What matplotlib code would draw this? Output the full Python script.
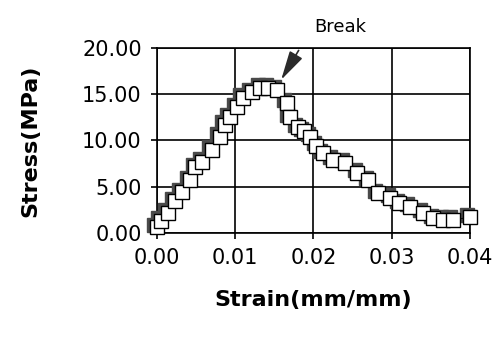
import matplotlib
matplotlib.use("Agg")
import matplotlib.pyplot as plt
from matplotlib.ticker import FormatStrFormatter
from matplotlib.transforms import offset_copy

# strain (mm/mm) and stress (MPa)
strain = [0.0000, 0.0005, 0.0014, 0.0023, 0.0032, 0.0042, 0.0049, 0.0058,
          0.0070, 0.0080, 0.0087, 0.0093, 0.0102, 0.0110, 0.0121, 0.0132,
          0.0142, 0.0153, 0.0166, 0.0170, 0.0180, 0.0188, 0.0196, 0.0204,
          0.0212, 0.0225, 0.0240, 0.0256, 0.0270, 0.0282, 0.0298, 0.0310,
          0.0323, 0.0340, 0.0353, 0.0366, 0.0378, 0.0400]
stress = [0.6, 1.3, 2.2, 3.4, 4.4, 5.7, 7.1, 7.7,
          9.0, 10.4, 11.7, 12.5, 13.6, 14.6, 15.2, 15.7,
          15.7, 15.5, 14.1, 12.5, 11.4, 11.0, 10.4, 9.4,
          8.6, 7.9, 7.6, 6.5, 5.7, 4.3, 3.8, 3.2,
          2.8, 2.2, 1.6, 1.4, 1.4, 1.7]

x_ticks = [0.00, 0.01, 0.02, 0.03, 0.04]
y_ticks = [0.0, 5.0, 10.0, 15.0, 20.0]

fig = plt.figure(figsize=(5.03, 3.38), dpi=100)
ax = fig.add_axes([0.312, 0.311, 0.622, 0.547])

# drop shadow behind each open square
shadow = offset_copy(ax.transData, fig=fig, x=-2.5, y=2.5, units="dots")
ax.plot(strain, stress, linestyle="none", marker="s", markersize=10,
        markerfacecolor="#4a4a4a", markeredgecolor="#4a4a4a",
        transform=shadow, clip_on=False, zorder=3)
ax.plot(strain, stress, color="black", linewidth=0.6, marker="s",
        markersize=10, markerfacecolor="white", markeredgecolor="black",
        markeredgewidth=1.0, clip_on=False, zorder=4)

ax.set_xlim(0, 0.04)
ax.set_ylim(0, 20)
ax.set_xticks(x_ticks)
ax.set_yticks(y_ticks)
ax.xaxis.set_major_formatter(FormatStrFormatter("%.2f"))
ax.yaxis.set_major_formatter(FormatStrFormatter("%.2f"))
ax.tick_params(direction="out", length=4, width=1.2, labelsize=15,
               pad=7, color="black")
ax.grid(True, color="black", linewidth=1.2)
for spine in ax.spines.values():
    spine.set_linewidth(1.2)

ax.set_xlabel("Strain(mm/mm)", fontsize=16, fontweight="bold", labelpad=16)
ax.set_ylabel("Stress(MPa)", fontsize=16, fontweight="bold", labelpad=30)

# break marker
ax.annotate("", xy=(0.0157, 16.3), xytext=(0.0183, 20.0),
            arrowprops=dict(arrowstyle="-|>,head_length=1.8,head_width=0.45",
                            color="#2a2a2a", linewidth=1.2),
            zorder=5)
ax.text(0.0235, 21.3, "Break", fontsize=13, ha="center", va="bottom")

fig.savefig("out.png", dpi=100)
